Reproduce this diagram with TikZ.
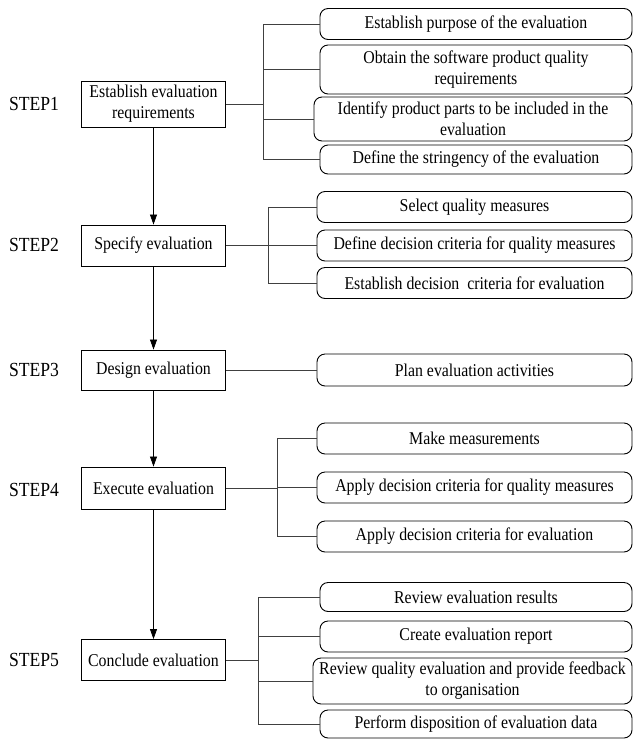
\documentclass[tikz,border=0pt]{standalone}
\usepackage{fontspec}
\setmainfont{Liberation Serif}[FakeStretch=0.88]
\usetikzlibrary{arrows.meta}
\begin{document}
\begin{tikzpicture}[x=1pt,y=-1pt,
  sbox/.style={draw=black, line width=0.9pt, minimum width=144pt, minimum height=41pt, inner sep=0pt, align=center, font=\fontsize{18}{21}\selectfont},
  rbox/.style={draw=black, line width=0.9pt, rounded corners=8pt, minimum width=315pt, inner sep=0pt, align=center, font=\fontsize{18}{21}\selectfont},
  lbl/.style={font=\fontsize{20}{22}\selectfont},
  conn/.style={draw=black!75, line width=0.8pt},
  arr/.style={draw=black, line width=0.8pt, -{Triangle[length=10pt,width=7pt]}}
]
\useasboundingbox (0,0) rectangle (633,740);

% STEP 1
\node[lbl] (L1) at (34,104) {STEP1};
\node[sbox, minimum height=46pt] (s1) at (153.5,104) {Establish evaluation\\requirements};
\node[rbox, minimum height=31pt, minimum width=312pt] (a1) at (476,24) {Establish purpose of the evaluation};
\node[rbox, minimum height=49pt, minimum width=312pt] (b1) at (476,69.5) {Obtain the software product quality\\requirements};
\node[rbox, minimum height=44pt, minimum width=318pt] (c1) at (473,119) {Identify product parts to be included in the\\evaluation};
\node[rbox, minimum height=29pt, minimum width=312pt] (d1) at (476,159.5) {Define the stringency of the evaluation};
\coordinate (t1) at (263,0);
\draw[conn] (s1.east) -- (s1.east -| t1);
\draw[conn] (a1.west -| t1) -- (d1.west -| t1);
\foreach \n in {a1,b1,c1,d1} \draw[conn] (\n.west -| t1) -- (\n.west);

% STEP 2
\node[lbl] (L2) at (34,245) {STEP2};
\node[sbox] (s2) at (153.5,245.5) {Specify evaluation};
\node[rbox, minimum height=31pt] (a2) at (474.5,207) {Select quality measures};
\node[rbox, minimum height=31pt] (b2) at (474.5,245.5) {Define decision criteria for quality measures};
\node[rbox, minimum height=31pt] (c2) at (474.5,283) {Establish decision\ \ criteria for evaluation};
\coordinate (t2) at (268,0);
\draw[conn] (s2.east) -- (b2.west);
\draw[conn] (a2.west -| t2) -- (c2.west -| t2);
\foreach \n in {a2,c2} \draw[conn] (\n.west -| t2) -- (\n.west);

% STEP 3
\node[lbl] (L3) at (34,370) {STEP3};
\node[sbox, minimum height=40pt] (s3) at (153.5,370) {Design evaluation};
\node[rbox, minimum height=32pt] (a3) at (474.5,370) {Plan evaluation activities};
\draw[conn] (s3.east) -- (a3.west);

% STEP 4
\node[lbl] (L4) at (34,490) {STEP4};
\node[sbox, minimum height=42pt] (s4) at (153.5,488) {Execute evaluation};
\node[rbox, minimum height=31pt] (a4) at (474.5,438.5) {Make measurements};
\node[rbox, minimum height=31pt] (b4) at (474.5,487.5) {Apply decision criteria for quality measures};
\node[rbox, minimum height=31pt] (c4) at (474.5,536.5) {Apply decision criteria for evaluation};
\coordinate (t4) at (277,0);
\draw[conn] (s4.east) -- (s4.east -| t4);
\draw[conn] (a4.west -| t4) -- (c4.west -| t4);
\foreach \n in {a4,b4,c4} \draw[conn] (\n.west -| t4) -- (\n.west);

% STEP 5
\node[lbl] (L5) at (34,660) {STEP5};
\node[sbox] (s5) at (153.5,660) {Conclude evaluation};
\node[rbox, minimum height=29pt, minimum width=312pt] (a5) at (476,597) {Review evaluation results};
\node[rbox, minimum height=31pt, minimum width=312pt] (b5) at (476,636.5) {Create evaluation report};
\node[rbox, minimum height=46pt, minimum width=319pt] (c5) at (472.5,681) {Review quality evaluation and provide feedback\\to organisation};
\node[rbox, minimum height=28pt, minimum width=312pt] (d5) at (476,724) {Perform disposition of evaluation data};
\coordinate (t5) at (258,0);
\draw[conn] (s5.east) -- (s5.east -| t5);
\draw[conn] (a5.west -| t5) -- (d5.west -| t5);
\foreach \n in {a5,b5,c5,d5} \draw[conn] (\n.west -| t5) -- (\n.west);

% arrows
\draw[arr] (s1.south) -- (s2.north);
\draw[arr] (s2.south) -- (s3.north);
\draw[arr] (s3.south) -- (s4.north);
\draw[arr] (s4.south) -- (s5.north);
\end{tikzpicture}
\end{document}
